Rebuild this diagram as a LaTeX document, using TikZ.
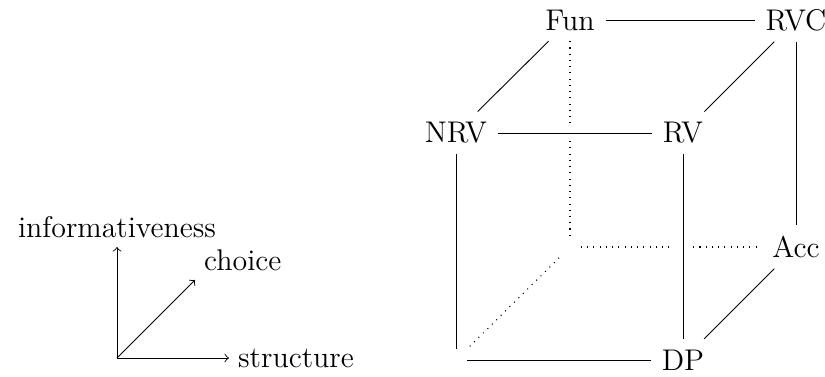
\documentclass[tikz,border=0pt]{standalone}
\tikzset{
  lbl/.style={font=\fontsize{11.5}{13.5}\selectfont, inner sep=4pt},
  corner/.style={inner sep=4pt, minimum size=0pt},
  edge/.style={draw, line width=0.35pt},
  backedge/.style={draw, dotted, line width=0.4pt},
  overedge/.style={draw, line width=0.35pt, preaction={draw=white, line width=6pt}},
  axis/.style={draw, line width=0.35pt, ->},
  axlbl/.style={font=\fontsize{11.5}{13.5}\selectfont}
}
\begin{document}
\begin{tikzpicture}[x=0.3846pt, y=-0.3846pt]
  \useasboundingbox (0,0) rectangle (825,376);
  % cube vertices
  \node[lbl] (fun) at (570,20) {Fun};
  \node[lbl] (rvc) at (796,20) {RVC};
  \node[lbl] (nrv) at (456,133) {NRV};
  \node[lbl] (rv)  at (683,133) {RV};
  \node[lbl] (acc) at (796,247) {Acc};
  \node[lbl] (dp)  at (683,360) {DP};
  \node[corner] (fbl) at (456,360) {};
  \node[corner] (bbl) at (570,247) {};
  % hidden edges
  \path[backedge] (fun) -- (bbl);
  \path[backedge] (bbl) -- (acc);
  \path[backedge] (bbl) -- (fbl);
  % visible edges
  \path[edge] (fun) -- (rvc);
  \path[edge] (fun) -- (nrv);
  \path[edge] (rvc) -- (rv);
  \path[edge] (rvc) -- (acc);
  \path[overedge] (nrv) -- (rv);
  \path[edge] (nrv) -- (fbl);
  \path[overedge] (rv) -- (dp);
  \path[edge] (fbl) -- (dp);
  \path[edge] (acc) -- (dp);
  % axes
  \coordinate (o) at (117,358);
  \coordinate (up) at (117,247);
  \coordinate (dg) at (195,280);
  \coordinate (rt) at (229,358);
  \path[axis] (o) -- (up);
  \path[axis] (o) -- (dg);
  \path[axis] (o) -- (rt);
  \node[axlbl, above] (tinf) at (up) {informativeness};
  \node[axlbl, above right] (tcho) at (dg) {choice};
  \node[axlbl, right] (tstr) at (rt) {structure};
\end{tikzpicture}
\end{document}
